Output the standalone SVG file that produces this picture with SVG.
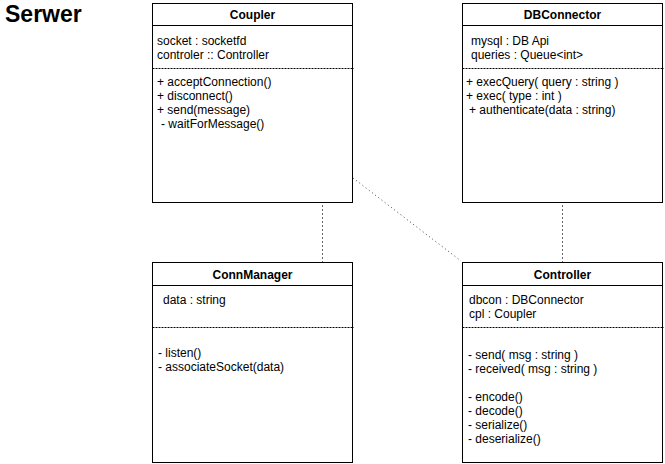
<svg xmlns="http://www.w3.org/2000/svg" width="665" height="464" viewBox="0 0 665 464">
<style>
text{font-family:"Liberation Sans",Arial,Helvetica,sans-serif;font-size:12px;fill:#000}
.title{font-size:23px;font-weight:bold}
.hd{font-weight:bold;text-anchor:middle}
.box{fill:#fff;stroke:#000;stroke-width:1}
.sep{stroke:#000;stroke-width:1}
.dash{stroke:#000;stroke-width:1;stroke-dasharray:2,1}
.conn{stroke:#666;stroke-width:1;fill:none;stroke-dasharray:2,2}
.dot{stroke:#444;stroke-width:1;fill:none;stroke-dasharray:1,3}
</style>
<rect width="665" height="464" fill="#fff"/>
<text class="title" x="5" y="22">Serwer</text>
<g id="connectors">
<line class="conn" x1="322.5" y1="205" x2="322.5" y2="262"/>
<line class="conn" x1="562.5" y1="205" x2="562.5" y2="262"/>
<line class="dot" x1="353" y1="178" x2="461" y2="261"/>
</g>
<g id="Coupler">
<rect class="box" x="152.5" y="3.5" width="200" height="199"/>
<line class="sep" x1="152.5" y1="25.5" x2="352.5" y2="25.5"/>
<line class="dash" x1="152.5" y1="68.5" x2="354" y2="68.5"/>
<text class="hd" x="252.5" y="18.5">Coupler</text>
<text x="157" y="45">socket : socketfd</text>
<text x="157" y="59">controler :: Controller</text>
<text x="157" y="86">+ acceptConnection()</text>
<text x="157" y="100">+ disconnect()</text>
<text x="157" y="114">+ send(message)</text>
<text x="161" y="128">- waitForMessage()</text>
</g>
<g id="DBConnector">
<rect class="box" x="462.5" y="3.5" width="200" height="199"/>
<line class="sep" x1="462.5" y1="25.5" x2="662.5" y2="25.5"/>
<line class="dash" x1="462.5" y1="68.5" x2="664" y2="68.5"/>
<text class="hd" x="562.5" y="18.5">DBConnector</text>
<text x="471" y="45">mysql : DB Api</text>
<text x="471" y="59">queries : Queue&lt;int&gt;</text>
<text x="466" y="86">+ execQuery( query : string )</text>
<text x="466" y="100">+ exec( type : int )</text>
<text x="469" y="114">+ authenticate(data : string)</text>
</g>
<g id="ConnManager">
<rect class="box" x="152.5" y="262.5" width="200" height="200"/>
<line class="sep" x1="152.5" y1="285.5" x2="352.5" y2="285.5"/>
<line class="dash" x1="152.5" y1="327.5" x2="354" y2="327.5"/>
<text class="hd" x="252.5" y="278.5">ConnManager</text>
<text x="163" y="303.5">data : string</text>
<text x="158" y="357">- listen()</text>
<text x="158" y="371">- associateSocket(data)</text>
</g>
<g id="Controller">
<rect class="box" x="462.5" y="262.5" width="200" height="200"/>
<line class="sep" x1="462.5" y1="285.5" x2="662.5" y2="285.5"/>
<line class="dash" x1="462.5" y1="327.5" x2="664" y2="327.5"/>
<text class="hd" x="562.5" y="278.5">Controller</text>
<text x="469" y="303.5">dbcon : DBConnector</text>
<text x="469" y="317.5">cpl : Coupler</text>
<text x="468" y="359">- send( msg : string )</text>
<text x="468" y="373">- received( msg : string )</text>
<text x="468" y="401">- encode()</text>
<text x="468" y="415">- decode()</text>
<text x="468" y="429">- serialize()</text>
<text x="468" y="443">- deserialize()</text>
</g>
</svg>
